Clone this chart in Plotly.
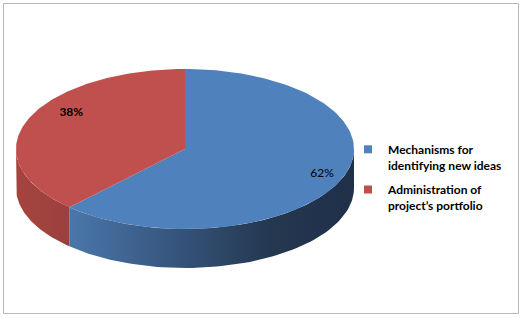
import numpy as np
import plotly.graph_objects as go

# ---- data ----
categories = ["Mechanisms for<br>identifying new ideas", "Administration of<br>project\u2019s portfolio"]
values = [62, 38]
top_colors = ["#4F81BD", "#C0504D"]
side_scales = [
    [[0, "#4a77ab"], [0.35, "#37577f"], [0.7, "#243850"], [1, "#1f3049"]],
    [[0, "#a5443f"], [1, "#9c403d"]],
]
label_bold = [False, True]

# ---- geometry of the 3D ellipse (pixel space) ----
W, H = 525, 318
cx, cy, rx, ry, depth = 185, 149, 169, 80, 39

def pt(theta_deg, drop=0.0, scale=1.0):
    t = np.radians(theta_deg)
    return cx + scale * rx * np.sin(t), cy - scale * ry * np.cos(t) + drop

total = sum(values)
cum = np.concatenate([[0], np.cumsum(values)]) / total * 360.0

fig = go.Figure()

# side walls (visible front half: 90..270 deg clockwise from top)
for i in range(len(values)):
    a0, a1 = max(cum[i], 90), min(cum[i + 1], 270)
    if a1 <= a0:
        continue
    th = np.linspace(a0, a1, 80)
    xt, yt = pt(th)
    xb, yb = pt(th[::-1], drop=depth)
    xs = np.concatenate([xt, xb, xt[:1]])
    ys = np.concatenate([yt, yb, yt[:1]])
    fig.add_trace(go.Scatter(
        x=xs, y=ys, mode="lines", fill="toself", line=dict(width=0),
        fillgradient=dict(type="horizontal", colorscale=side_scales[i],
                          start=float(xs.min()), stop=float(xs.max())),
        showlegend=False, hoverinfo="skip"))

# top faces
for i in range(len(values)):
    th = np.linspace(cum[i], cum[i + 1], 150)
    xt, yt = pt(th)
    xs = np.concatenate([[cx], xt, [cx]])
    ys = np.concatenate([[cy], yt, [cy]])
    fig.add_trace(go.Scatter(
        x=xs, y=ys, mode="lines", fill="toself", line=dict(width=0),
        fillcolor=top_colors[i], showlegend=False, hoverinfo="skip"))

# percentage labels
label_r = [0.86, 0.80]
label_dx = [2, 12]
label_dy = [0, -12]
for i in range(len(values)):
    mid = (cum[i] + cum[i + 1]) / 2
    lx, ly = pt(mid, scale=label_r[i])
    txt = f"{values[i] / total * 100:.0f}%"
    if label_bold[i]:
        txt = f"<b>{txt}</b>"
    fig.add_trace(go.Scatter(
        x=[lx + label_dx[i]], y=[ly + label_dy[i]], mode="text", text=[txt],
        textfont=dict(family="Lato", size=12, color="black"),
        showlegend=False, hoverinfo="skip"))

# legend entries
for i in range(len(values)):
    fig.add_trace(go.Scatter(
        x=[None], y=[None], mode="markers",
        marker=dict(symbol="square", size=8, color=top_colors[i]),
        name=f"<b>{categories[i]}</b>", legendgroup=f"g{i}"))

fig.add_shape(type="rect", x0=3.5, y0=3.5, x1=518.5, y1=313.5,
              line=dict(color="#b8b8b8", width=1), layer="below")

fig.update_layout(
    width=W, height=H, margin=dict(l=0, r=0, t=0, b=0),
    paper_bgcolor="white", plot_bgcolor="white",
    xaxis=dict(range=[0, W], visible=False, fixedrange=True),
    yaxis=dict(range=[H, 0], visible=False, fixedrange=True),
    showlegend=True,
    legend=dict(x=348 / W, y=1 - 135 / H, xanchor="left", yanchor="top",
                valign="top",
                font=dict(family="Lato", size=12, color="black"),
                tracegroupgap=6, bgcolor="rgba(0,0,0,0)"),
)

fig.write_html("out.html")
